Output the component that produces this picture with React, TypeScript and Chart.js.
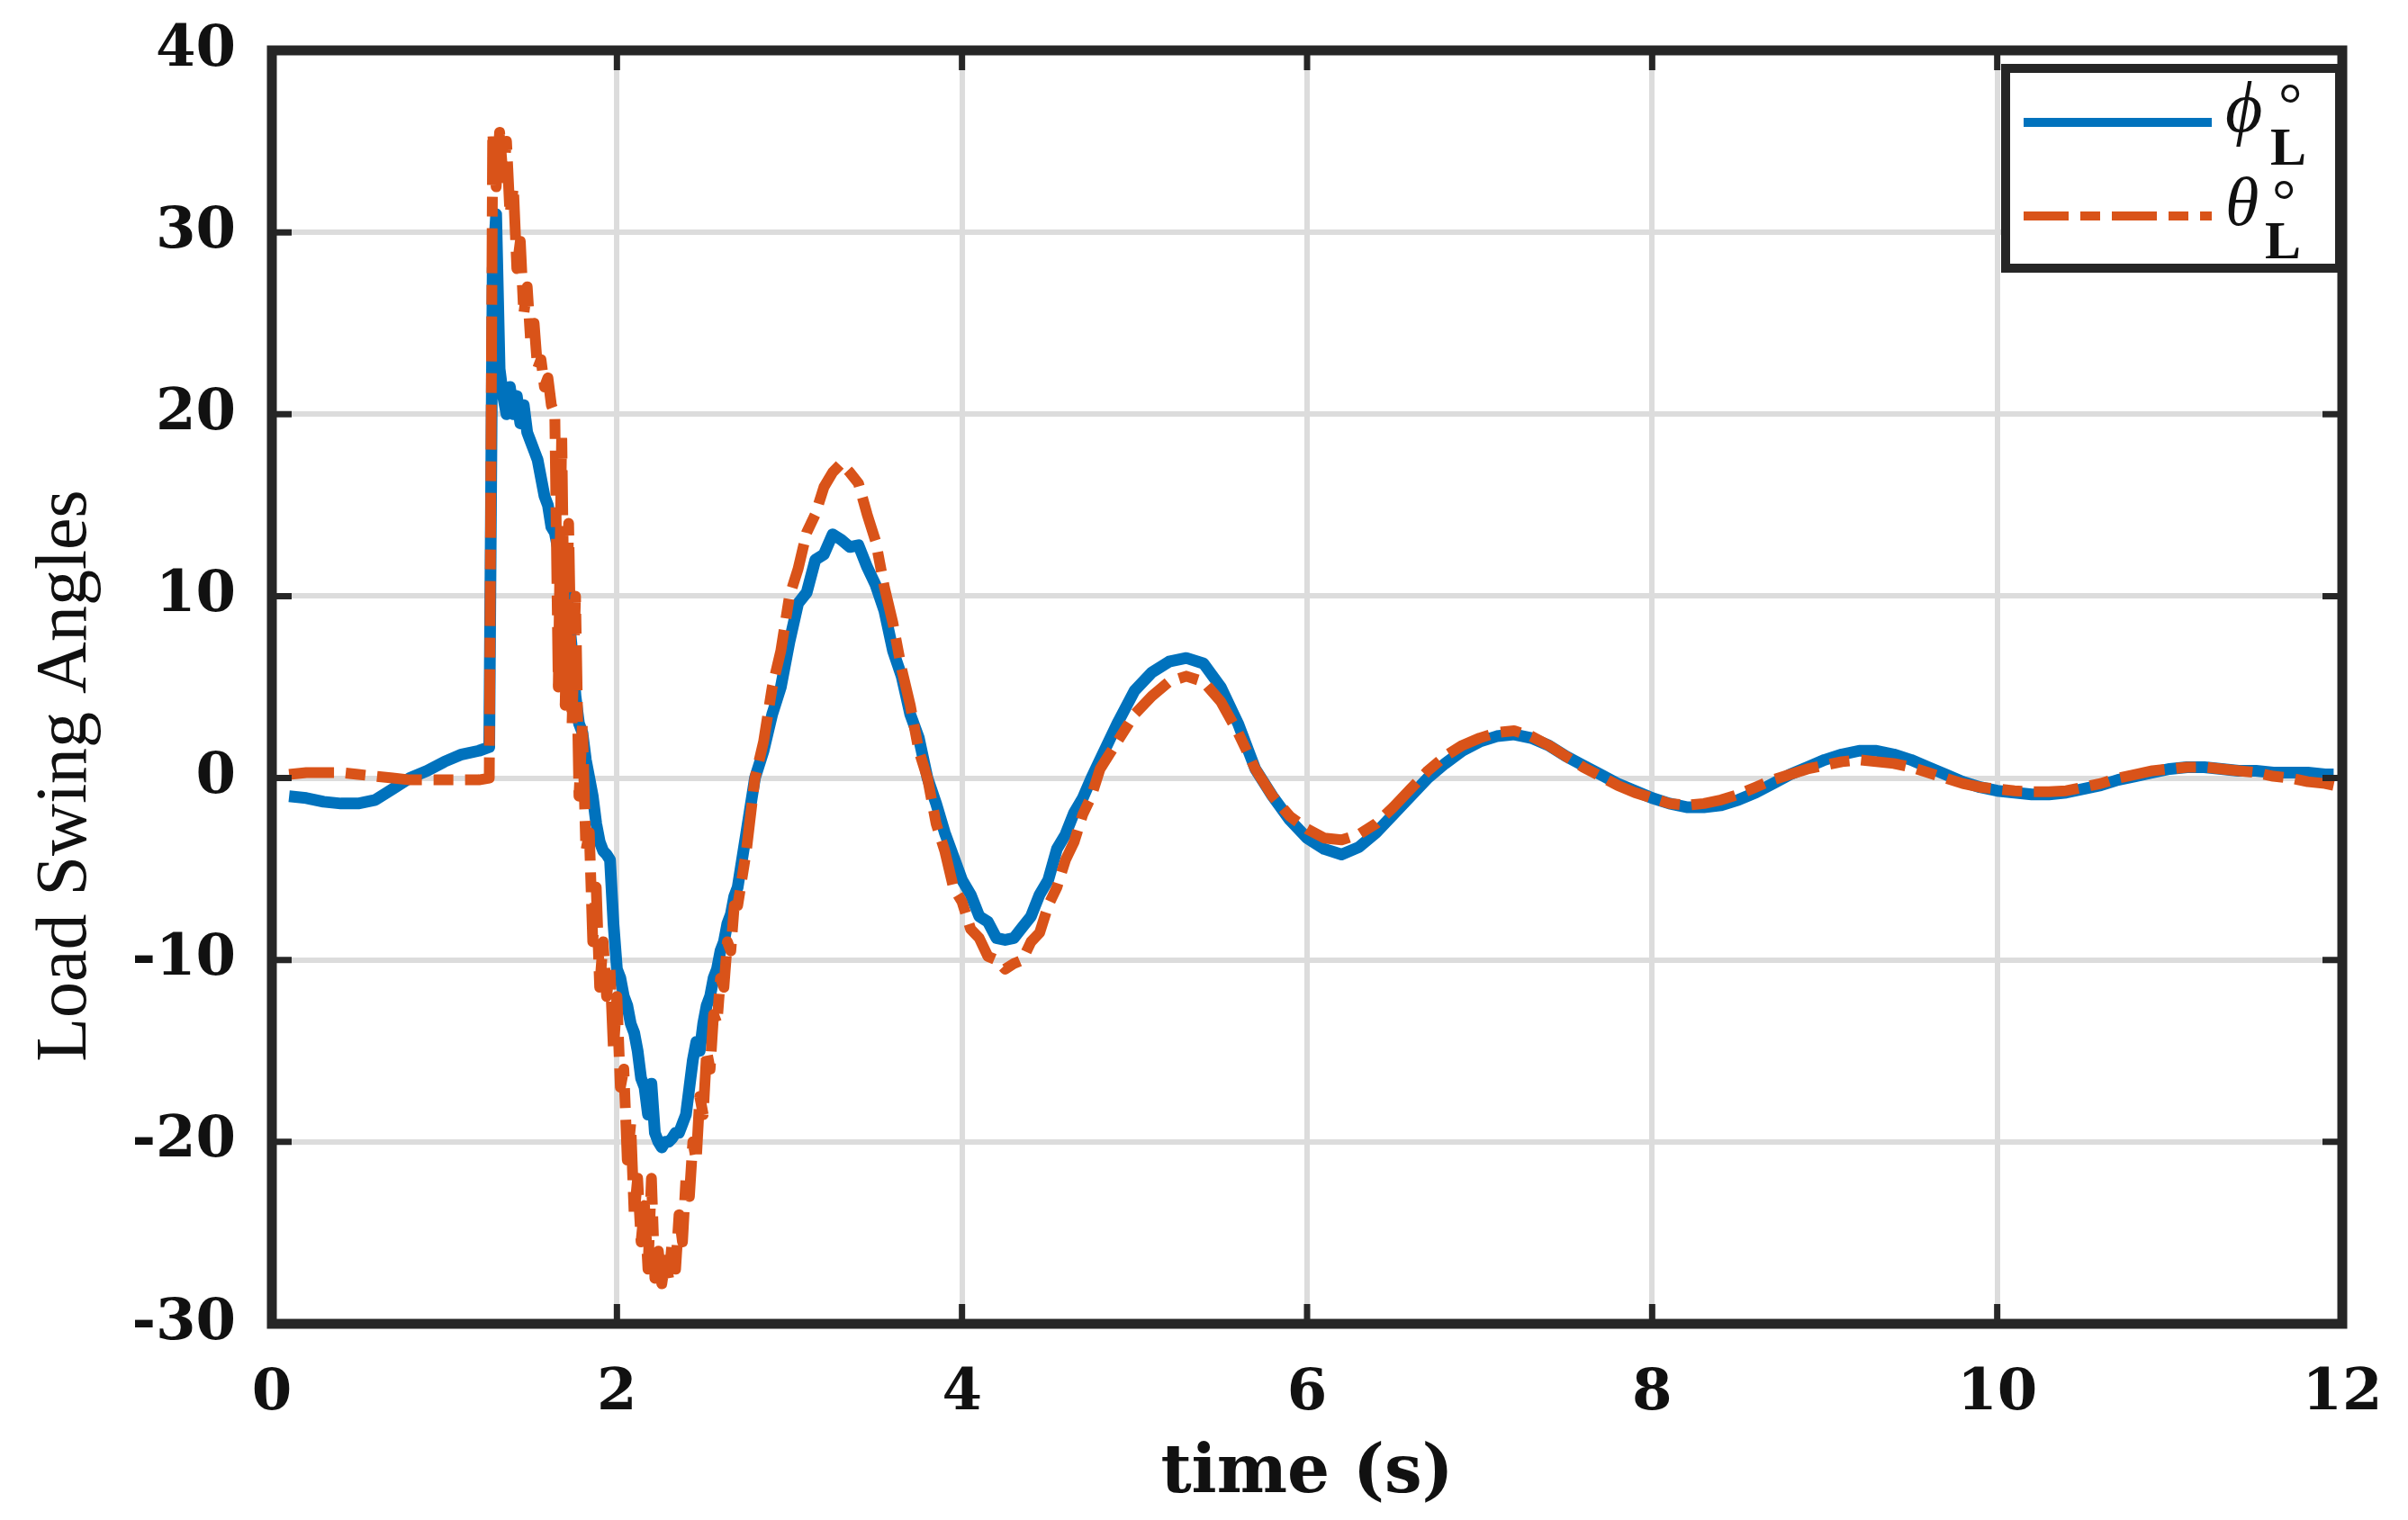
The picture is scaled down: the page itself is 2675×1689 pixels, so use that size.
import React, { useEffect, useRef } from "react";
import { Chart, registerables } from "chart.js";

Chart.register(...registerables);

// ---- data (time in s, angles in degrees) ----
const TIME = [
  // 0.1 .. 1.26
  0.1, 0.2, 0.3, 0.4, 0.5, 0.6, 0.7, 0.8, 0.9, 1.0, 1.1, 1.2, 1.26,
  // transient
  1.28, 1.30, 1.32, 1.34, 1.36, 1.38, 1.40, 1.42, 1.44, 1.46,
  1.48, 1.50, 1.52, 1.54, 1.56, 1.58, 1.60, 1.62, 1.64, 1.66,
  1.68, 1.70, 1.72, 1.74, 1.76, 1.78, 1.80, 1.82, 1.84, 1.86,
  1.88, 1.90, 1.92, 1.94, 1.96, 1.98, 2.00, 2.02, 2.04, 2.06,
  2.08, 2.10, 2.12, 2.14, 2.16, 2.18, 2.20, 2.22, 2.24, 2.26,
  2.28, 2.30, 2.32, 2.34, 2.36, 2.38, 2.40, 2.42, 2.44, 2.46,
  2.48, 2.50, 2.52, 2.54, 2.56, 2.58, 2.60, 2.62, 2.64, 2.66,
  2.68, 2.70,
  // second swing
  2.75, 2.80, 2.85, 2.90, 2.95, 3.00, 3.05, 3.10, 3.15, 3.20,
  3.25, 3.30, 3.35, 3.40, 3.45, 3.50, 3.55, 3.60, 3.65, 3.70,
  3.75, 3.80, 3.85, 3.90, 3.95, 4.00, 4.05, 4.10, 4.15, 4.20,
  4.25, 4.30, 4.35, 4.40, 4.45, 4.50, 4.55, 4.60, 4.65, 4.70,
  4.75,
  // decay
  4.8, 4.9, 5.0, 5.1, 5.2, 5.3, 5.4, 5.5, 5.6, 5.7,
  5.8, 5.9, 6.0, 6.1, 6.2, 6.3, 6.4, 6.5, 6.6, 6.7,
  6.8, 6.9, 7.0, 7.1, 7.2, 7.3, 7.4, 7.5, 7.6, 7.7,
  7.8, 7.9, 8.0, 8.1, 8.2, 8.3, 8.4, 8.5, 8.6, 8.7,
  8.8, 8.9, 9.0, 9.1, 9.2, 9.3, 9.4, 9.5, 9.6, 9.7,
  9.8, 9.9, 10.0, 10.1, 10.2, 10.3, 10.4, 10.5, 10.6, 10.7,
  10.8, 10.9, 11.0, 11.1, 11.2, 11.3, 11.4, 11.5, 11.6, 11.7,
  11.8, 11.9, 11.95,
];

const PHI = [
  -1.0, -1.1, -1.3, -1.4, -1.4, -1.2, -0.6, 0.0, 0.4, 0.9, 1.3, 1.5, 1.7,
  28, 31, 22.5, 21, 20, 21.5, 20, 21, 19.5, 20.5,
  19, 18.5, 18, 17.5, 16.5, 15.5, 15, 13.8, 13.5, 12.5,
  12.8, 11, 9, 7, 4.5, 3, 2.5, 1, 0, -1,
  -2.5, -3.5, -4, -4.2, -4.5, -8, -10.5, -11, -12, -12.5,
  -13.5, -14, -15, -16.5, -17, -18.5, -16.8, -19.5, -20, -20.3,
  -20, -20, -19.8, -19.5, -19.5, -19, -18.5, -17, -15.5, -14.5,
  -15, -13.5, -12.5, -12, -11, -10.5, -9.5, -9, -8, -7.5,
  -6.5, -6,
  -3, 0, 1.5, 3.5, 5, 7.5, 9.6, 10.2, 12, 12.3,
  13.4, 13.1, 12.7, 12.8, 11.6, 10.6, 9.2, 7, 5.6, 3.5,
  2.2, 0, -1.4, -3, -4.3, -5.6, -6.4, -7.6, -7.9, -8.8,
  -8.9, -8.8, -8.2, -7.6, -6.4, -5.6, -3.9, -3.1, -1.9, -1.1,
  0,
  1, 3, 4.8, 5.8, 6.4, 6.6, 6.3, 5.0, 3.0, 0.5,
  -1, -2.3, -3.3, -3.9, -4.2, -3.8, -3, -2, -1, 0,
  0.8, 1.5, 2, 2.3, 2.4, 2.2, 1.8, 1.2, 0.7, 0.2,
  -0.3, -0.7, -1.1, -1.4, -1.6, -1.6, -1.5, -1.2, -0.8, -0.3,
  0.2, 0.6, 1.0, 1.3, 1.5, 1.5, 1.3, 1.0, 0.6, 0.2,
  -0.2, -0.5, -0.7, -0.8, -0.9, -0.9, -0.8, -0.6, -0.4, -0.1,
  0.1, 0.3, 0.5, 0.6, 0.6, 0.5, 0.4, 0.4, 0.3, 0.3,
  0.3, 0.2, 0.2,
];

const THETA = [
  0.2, 0.3, 0.3, 0.3, 0.2, 0.1, 0.0, -0.1, -0.1, -0.1, -0.1, -0.1, 0.0,
  35.5, 32.5, 35.5, 33, 35, 31, 32.5, 28, 29.5, 25.5,
  27, 24, 25, 22.5, 23, 21.5, 22, 20.5, 20, 5,
  19, 4, 14, 3, 10, -1, 3, -4, -3, -9,
  -6, -11.5, -9, -12, -10.5, -15, -12, -17, -16, -21,
  -19, -24, -22, -25.5, -23.5, -27, -22, -27.5, -26, -27.8,
  -26.5, -27.5, -25.5, -27, -24, -25.5, -22, -23, -20, -21,
  -17.5, -18.5, -15, -16, -13, -13.5, -11, -11.5, -9, -9.5,
  -7, -7,
  -4, 0, 2, 5, 7, 10, 11.5, 13.5, 14.5, 16,
  16.8, 17.3, 16.8, 16.2, 14.5, 13, 10.5, 8.5, 6, 4,
  1.5, 0, -2.5, -4, -6, -6.8, -8.3, -8.8, -9.8, -10,
  -10.5, -10.2, -10, -9, -8.5, -7, -6, -4.5, -3.5, -2,
  -1,
  0.5, 2, 3.5, 4.5, 5.3, 5.6, 5.3, 4.2, 2.5, 0.5,
  -1, -2.1, -2.8, -3.3, -3.4, -3.1, -2.5, -1.6, -0.6, 0.4,
  1.2, 1.8, 2.2, 2.5, 2.6, 2.3, 1.8, 1.2, 0.6, 0.1,
  -0.4, -0.8, -1.1, -1.4, -1.5, -1.4, -1.2, -0.9, -0.5, -0.1,
  0.2, 0.5, 0.7, 0.9, 1.0, 0.9, 0.8, 0.6, 0.3, 0,
  -0.3, -0.5, -0.6, -0.7, -0.75, -0.75, -0.7, -0.5, -0.3, 0,
  0.2, 0.4, 0.5, 0.6, 0.6, 0.5, 0.4, 0.3, 0.1, 0,
  -0.2, -0.3, -0.4,
];

const X_TICKS = [0, 2, 4, 6, 8, 10, 12];
const Y_TICKS = [-30, -20, -10, 0, 10, 20, 30, 40];
const SERIES_SYMBOLS = ["\u03D5", "\u03B8"];
const SERIES_SUB = ["L", "L"];
const X_LABEL = "time (s)";
const Y_LABEL = "Load Swing Angles";

const BLUE = "#0072BD";
const ORANGE = "#D95319";
const AXIS = "#262626";
const TEXT = "#111111";

const W = 2675;
const H = 1689;
const PLOT_LEFT = 302;
const PLOT_RIGHT = 2602;
const PLOT_TOP = 56;
const PLOT_BOTTOM = 1471;

const framePlugin = {
  id: "matlabFrame",
  afterDatasetsDraw(chart: any) {
    const { ctx, chartArea, scales } = chart;
    const { left, right, top, bottom } = chartArea;
    ctx.save();
    ctx.strokeStyle = AXIS;
    ctx.lineWidth = 7;
    const tl = 22;
    X_TICKS.forEach((v) => {
      const x = scales.x.getPixelForValue(v);
      ctx.beginPath();
      ctx.moveTo(x, bottom);
      ctx.lineTo(x, bottom - tl);
      ctx.moveTo(x, top);
      ctx.lineTo(x, top + tl);
      ctx.stroke();
    });
    Y_TICKS.forEach((v) => {
      const y = scales.y.getPixelForValue(v);
      ctx.beginPath();
      ctx.moveTo(left, y);
      ctx.lineTo(left + tl, y);
      ctx.moveTo(right, y);
      ctx.lineTo(right - tl, y);
      ctx.stroke();
    });
    ctx.lineWidth = 11;
    ctx.strokeRect(left, top, right - left, bottom - top);
    ctx.restore();
  },
};

const legendPlugin = {
  id: "matlabLegend",
  afterDatasetsDraw(chart: any) {
    const ctx = chart.ctx;
    const bx = 2228, by = 76, bw = 371, bh = 222;
    ctx.save();
    ctx.fillStyle = "#ffffff";
    ctx.fillRect(bx, by, bw, bh);
    ctx.lineWidth = 10;
    ctx.strokeStyle = AXIS;
    ctx.strokeRect(bx, by, bw, bh);

    const rows = [136, 240];
    chart.data.datasets.forEach((ds: any, i: number) => {
      const y = rows[i];
      ctx.beginPath();
      ctx.lineWidth = 10;
      ctx.strokeStyle = ds.borderColor;
      ctx.setLineDash(ds.borderDash || []);
      ctx.moveTo(2248, y);
      ctx.lineTo(2457, y);
      ctx.stroke();
      ctx.setLineDash([]);
    });

    ctx.fillStyle = TEXT;
    ctx.textAlign = "left";
    ctx.textBaseline = "alphabetic";
    // phi
    ctx.font = "italic 80px 'Liberation Serif'";
    ctx.fillText(SERIES_SYMBOLS[0], 2472, 146);
    ctx.font = "66px 'Liberation Serif'";
    ctx.fillText("\u00B0", 2531, 138);
    ctx.font = "bold 60px 'Liberation Serif'";
    ctx.fillText(SERIES_SUB[0], 2522, 183);
    // theta
    ctx.font = "italic 76px 'Liberation Serif'";
    ctx.fillText(SERIES_SYMBOLS[1], 2472, 250);
    ctx.font = "66px 'Liberation Serif'";
    ctx.fillText("\u00B0", 2524, 245);
    ctx.font = "bold 60px 'Liberation Serif'";
    ctx.fillText(SERIES_SUB[1], 2516, 287);
    ctx.restore();
  },
};

const yLabelPlugin = {
  id: "yLabel",
  afterDraw(chart: any) {
    const ctx = chart.ctx;
    ctx.save();
    ctx.translate(74, 862);
    ctx.rotate(-Math.PI / 2);
    ctx.fillStyle = TEXT;
    ctx.font = "80px 'Liberation Serif'";
    ctx.textAlign = "center";
    ctx.textBaseline = "middle";
    ctx.fillText(Y_LABEL, 0, 0);
    ctx.restore();
  },
};

export default function App() {
  const ref = useRef<HTMLCanvasElement | null>(null);

  useEffect(() => {
    if (!ref.current) return;
    const tickFont = { family: "'DejaVu Serif'", size: 64, weight: "bold" as const };
    const chart = new Chart(ref.current, {
      type: "line",
      data: {
        datasets: [
          {
            label: "phi_L",
            data: TIME.map((t, i) => ({ x: t, y: PHI[i] })),
            borderColor: BLUE,
            backgroundColor: BLUE,
            borderWidth: 13,
            borderJoinStyle: "round",
            pointRadius: 0,
            tension: 0,
            order: 1,
          },
          {
            label: "theta_L",
            data: TIME.map((t, i) => ({ x: t, y: THETA[i] })),
            borderColor: ORANGE,
            backgroundColor: ORANGE,
            borderWidth: 12,
            borderJoinStyle: "round",
            borderDash: [50, 13, 22, 13],
            pointRadius: 0,
            tension: 0,
            order: 0,
          },
        ],
      },
      options: {
        responsive: false,
        animation: false,
        devicePixelRatio: 1,
        layout: { padding: { left: 0, top: PLOT_TOP, right: W - PLOT_RIGHT, bottom: 0 } },
        plugins: {
          legend: { display: false },
          tooltip: { enabled: false },
          title: { display: false },
        },
        scales: {
          x: {
            type: "linear",
            min: 0,
            max: 12,
            afterBuildTicks: (s: any) => {
              s.ticks = X_TICKS.map((v) => ({ value: v }));
            },
            afterFit: (s: any) => {
              s.height = H - PLOT_BOTTOM;
              s.paddingLeft = 0;
              s.paddingRight = 0;
            },
            grid: { color: "#dcdcdc", lineWidth: 6, drawTicks: false },
            border: { display: false },
            ticks: { font: tickFont, color: TEXT, padding: 40, maxRotation: 0 },
            title: {
              display: true,
              text: X_LABEL,
              font: { family: "'DejaVu Serif'", size: 74, weight: "bold" },
              color: TEXT,
              padding: { top: 0, bottom: 6 },
            },
          },
          y: {
            type: "linear",
            min: -30,
            max: 40,
            afterBuildTicks: (s: any) => {
              s.ticks = Y_TICKS.map((v) => ({ value: v }));
            },
            afterFit: (s: any) => {
              s.width = PLOT_LEFT;
              s.paddingTop = 0;
              s.paddingBottom = 0;
            },
            grid: { color: "#dcdcdc", lineWidth: 6, drawTicks: false },
            border: { display: false },
            ticks: { font: tickFont, color: TEXT, padding: 40 },
          },
        },
      },
      plugins: [framePlugin, legendPlugin, yLabelPlugin],
    });
    return () => chart.destroy();
  }, []);

  return (
    <div
      style={{
        position: "fixed",
        left: 0,
        top: 0,
        width: W,
        height: H,
        background: "#ffffff",
      }}
    >
      <canvas ref={ref} width={W} height={H} style={{ width: W, height: H, display: "block" }} />
    </div>
  );
}
